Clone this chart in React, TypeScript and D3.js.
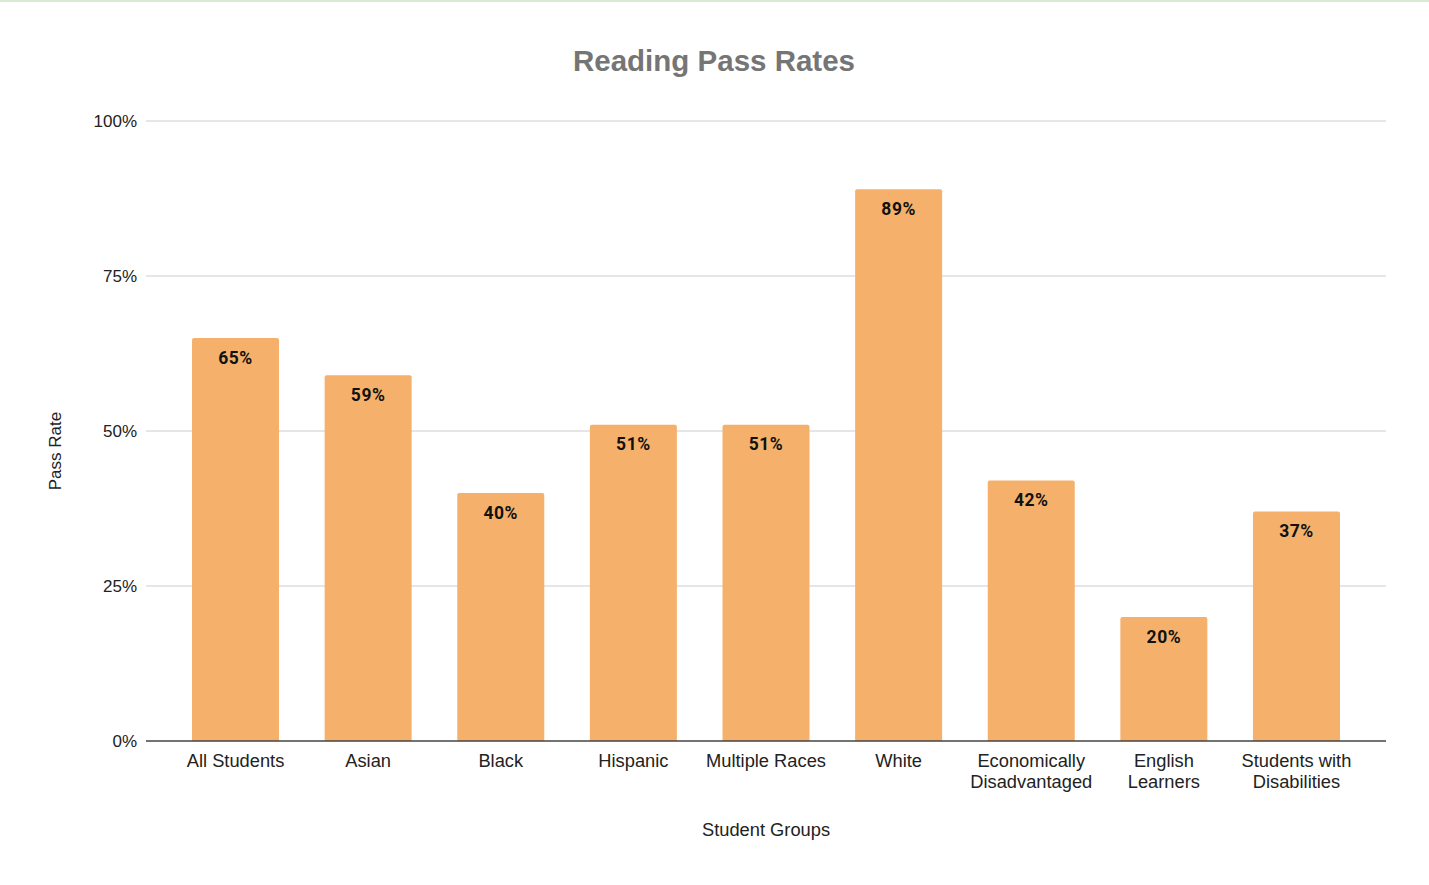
import React from "react";
import * as d3 from "d3";

const categories: string[][] = [
  ["All Students"],
  ["Asian"],
  ["Black"],
  ["Hispanic"],
  ["Multiple Races"],
  ["White"],
  ["Economically", "Disadvantaged"],
  ["English", "Learners"],
  ["Students with", "Disabilities"],
];
const passRates: number[] = [65, 59, 40, 51, 51, 89, 42, 20, 37];
const yTicks: number[] = [0, 25, 50, 75, 100];

const W = 1429;
const H = 885;
const M = { left: 146, right: 1386, top: 121, bottom: 741 };

export default function App() {
  const keys = categories.map((c) => c.join(" "));
  const x = d3
    .scaleBand<string>()
    .domain(keys)
    .range([M.left, M.right])
    .paddingInner(0.344)
    .paddingOuter(0.347);
  const y = d3.scaleLinear().domain([0, 100]).range([M.bottom, M.top]);
  const font = "'Liberation Sans', Arial, sans-serif";

  return (
    <svg
      width={W}
      height={H}
      style={{ position: "absolute", left: 0, top: 0, background: "#fff" }}
    >
      <rect x={0} y={0} width={W} height={2} fill="#d9ead3" />
      <text
        x={714}
        y={71}
        textAnchor="middle"
        fontFamily={font}
        fontWeight="bold"
        fontSize={29.5}
        fill="#757575"
      >
        Reading Pass Rates
      </text>
      {yTicks.map((t) => (
        <g key={t}>
          {t !== 0 && (
            <line
              x1={M.left}
              x2={M.right}
              y1={y(t)}
              y2={y(t)}
              stroke="#cccccc"
              strokeWidth={1}
            />
          )}
          <text
            x={137}
            y={y(t) + 6}
            textAnchor="end"
            fontFamily={font}
            fontSize={17}
            fill="#222"
          >
            {t}%
          </text>
        </g>
      ))}
      {keys.map((k, i) => {
        const bx = x(k)!;
        const bw = x.bandwidth();
        const top = y(passRates[i]);
        const h = y(0) - top;
        const r = 2;
        const path = `M${bx},${y(0)} L${bx},${top + r} Q${bx},${top} ${bx + r},${top} L${bx + bw - r},${top} Q${bx + bw},${top} ${bx + bw},${top + r} L${bx + bw},${y(0)} Z`;
        return (
          <g key={k}>
            <path d={h > 0 ? path : ""} fill="#f5b16b" />
            <text
              x={bx + bw / 2}
              y={top + 25.5}
              textAnchor="middle"
              fontFamily="Roboto, 'Noto Sans', sans-serif"
              fontWeight="bold"
              fontSize={17.5}
              letterSpacing={0.5}
              fill="#111"
            >
              {passRates[i]}%
            </text>
            {categories[i].map((line, j) => (
              <text
                key={j}
                x={bx + bw / 2}
                y={767 + j * 21}
                textAnchor="middle"
                fontFamily={font}
                fontSize={18.3}
                fill="#222"
              >
                {line}
              </text>
            ))}
          </g>
        );
      })}
      <line
        x1={M.left}
        x2={M.right}
        y1={y(0)}
        y2={y(0)}
        stroke="#444"
        strokeWidth={1.5}
      />
      <text
        x={766}
        y={836}
        textAnchor="middle"
        fontFamily={font}
        fontSize={18.3}
        fill="#222"
      >
        Student Groups
      </text>
      <text
        transform={`translate(61, ${451}) rotate(-90)`}
        textAnchor="middle"
        fontFamily={font}
        fontSize={17}
        fill="#222"
      >
        Pass Rate
      </text>
    </svg>
  );
}
